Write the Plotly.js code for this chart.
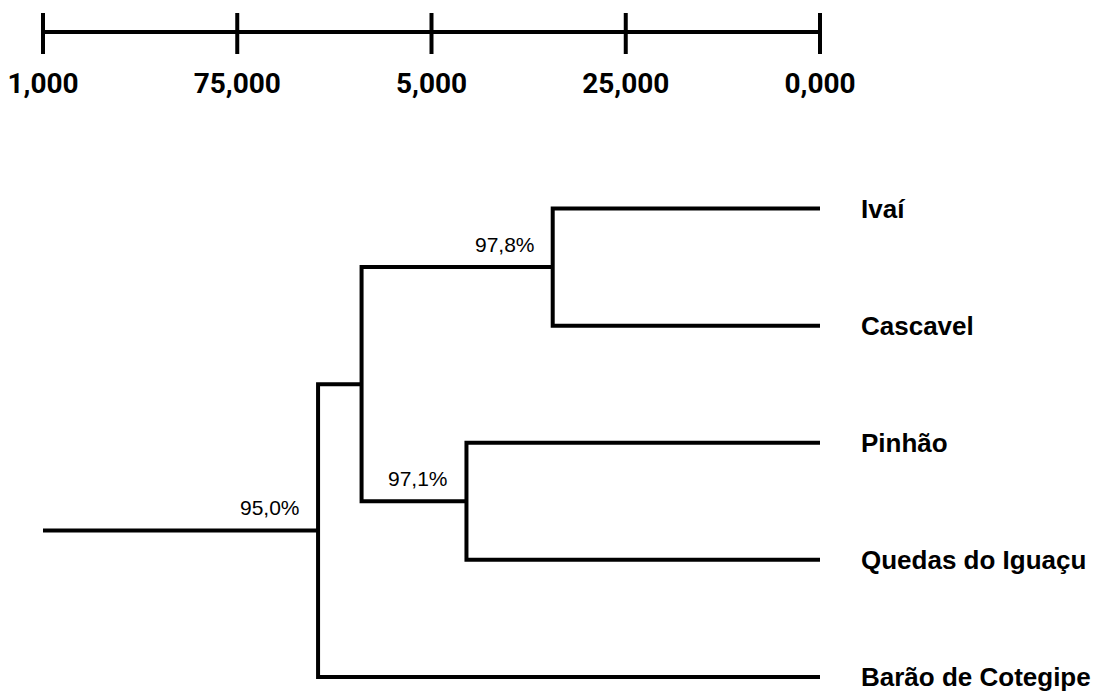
<!DOCTYPE html>
<html>
<head>
<meta charset="utf-8">
<script src="https://cdn.plot.ly/plotly-3.0.1.min.js"></script>
<style>
  html, body { margin: 0; padding: 0; background: #fff; }
  #chart { width: 1099px; height: 692px; }
</style>
</head>
<body>
<div id="chart"></div>
<script>
// Leaves of the dendrogram, top to bottom
const leaves = ['Ivaí', 'Cascavel', 'Pinhão', 'Quedas do Iguaçu', 'Barão de Cotegipe'];

// Merge steps: cluster ids 0..4 are the leaves, 5.. are the clusters formed by each step
const mergeLeft   = [0, 2, 5, 7];
const mergeRight  = [1, 3, 6, 4];
const mergeHeight = [0.344, 0.455, 0.590, 0.646];
const mergeLabel  = ['97,8%', '97,1%', '', '95,0%'];
const rootHeight  = 1.0;

// Distance scale bar
const scaleTicks  = [1, 0.75, 0.5, 0.25, 0];
const scaleLabels = ['1,000', '75,000', '5,000', '25,000', '0,000'];

// ---- build the dendrogram elbows ----
const pos = leaves.map((_, i) => i);
const hgt = leaves.map(() => 0);
const dx = [], dy = [];
const nodeAnn = [];
mergeHeight.forEach((h, k) => {
  const a = mergeLeft[k], b = mergeRight[k];
  dx.push(hgt[a], h, h, hgt[b], null);
  dy.push(pos[a], pos[a], pos[b], pos[b], null);
  pos.push((pos[a] + pos[b]) / 2);
  hgt.push(h);
  if (mergeLabel[k]) nodeAnn.push({ x: h, y: pos[pos.length - 1], text: mergeLabel[k] });
});
const last = pos.length - 1;
dx.push(hgt[last], rootHeight);
dy.push(pos[last], pos[last]);

// ---- scale bar: horizontal bar plus crossing ticks (y2 runs in pixels from the top) ----
const sx = [scaleTicks[0], scaleTicks[scaleTicks.length - 1], null];
const sy = [32, 32, null];
scaleTicks.forEach(t => { sx.push(t, t, null); sy.push(13, 54, null); });

const pad = 10 / 777;   // breathing room so end strokes are not clipped
const xRange = [1 + pad, -pad];

const traces = [
  {
    type: 'scatter', mode: 'lines', x: dx, y: dy, xaxis: 'x', yaxis: 'y',
    line: { color: '#000', width: 4 }, hoverinfo: 'skip', showlegend: false
  },
  {
    type: 'scatter', mode: 'lines', x: sx, y: sy, xaxis: 'x2', yaxis: 'y2',
    line: { color: '#000', width: 4 }, hoverinfo: 'skip', showlegend: false
  }
];

const annotations = nodeAnn.map(n => ({
  x: n.x, y: n.y, xref: 'x', yref: 'y', text: n.text, showarrow: false,
  xanchor: 'right', yanchor: 'middle', xshift: -16, yshift: 23,
  font: { family: 'Liberation Sans, Arial, sans-serif', size: 21, color: '#000' }
}));

const topH = 64;

const layout = {
  width: 1099, height: 692,
  margin: { l: 33, r: 269, t: 0, b: 0 },
  paper_bgcolor: '#fff', plot_bgcolor: '#fff',
  showlegend: false,
  xaxis: {
    domain: [0, 1], range: xRange, anchor: 'y',
    showgrid: false, zeroline: false, showline: false, showticklabels: false, ticks: ''
  },
  yaxis: {
    domain: [0, 542 / 692], range: [4.129, -0.5], anchor: 'x', side: 'right',
    tickmode: 'array', tickvals: leaves.map((_, i) => i), ticktext: leaves,
    showgrid: false, zeroline: false, showline: false, ticks: '',
    ticklabelstandoff: 30,
    tickfont: { family: 'Liberation Sans, Arial, sans-serif', size: 26, color: '#000', weight: 'bold' }
  },
  xaxis2: {
    domain: [0, 1], range: xRange, anchor: 'y2', side: 'bottom',
    tickmode: 'array', tickvals: scaleTicks, ticktext: scaleLabels,
    showgrid: false, zeroline: false, showline: false, ticks: '',
    tickfont: { family: 'Roboto, Liberation Sans, sans-serif', size: 28, color: '#000', weight: 'bold' }
  },
  yaxis2: {
    domain: [1 - topH / 692, 1], range: [topH, 0], anchor: 'x2',
    showgrid: false, zeroline: false, showline: false, showticklabels: false, ticks: ''
  },
  annotations: annotations
};

Plotly.newPlot('chart', traces, layout, { staticPlot: true, displayModeBar: false });
</script>
</body>
</html>
